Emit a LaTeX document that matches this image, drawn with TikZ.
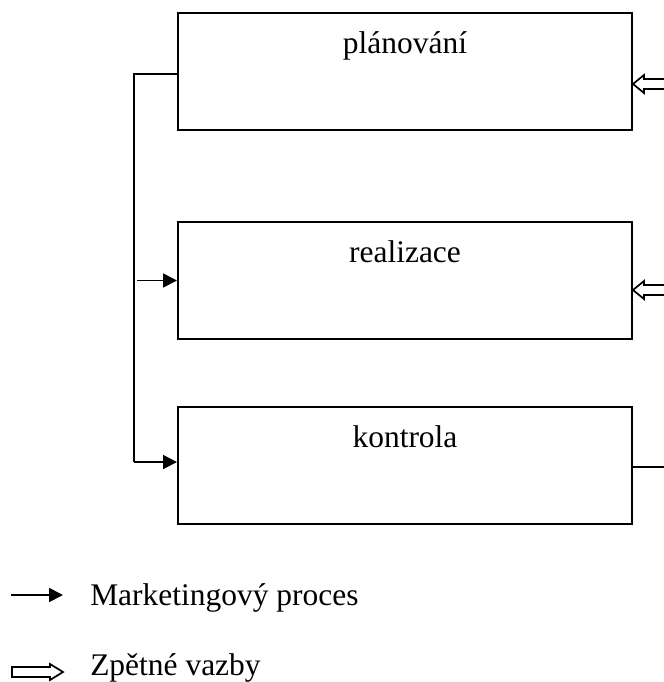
\documentclass[tikz,border=0pt]{standalone}
\usepackage{fontspec}
\setmainfont{Liberation Serif}
\usetikzlibrary{arrows.meta}
\begin{document}
\begin{tikzpicture}[x=0.75pt,y=-0.75pt,
  box/.style={draw, line width=1.5pt, rectangle, minimum width=340.5pt, inner sep=0pt,
    text height=30pt, text depth=57.75pt, font=\fontsize{23.6}{27}\selectfont},
  flow/.style={line width=1.3pt},
  arr/.style={line width=1.3pt, -{Triangle[length=10.5pt,width=10.5pt]}},
  fb/.style={line width=1.3pt, line join=miter},
  legtext/.style={anchor=base west, inner sep=0pt, font=\fontsize{23.6}{27}\selectfont}]
\useasboundingbox (0,0) rectangle (664,682);

\node[box] (plan) at (405,71.5) {plánování};
\node[box] (real) at (405,280.5) {realizace};
\node[box] (kont) at (405,465.5) {kontrola};

\coordinate (busx) at (134,0);
\coordinate (gapx) at (137,0);

% marketing process connectors
\draw[flow] ([yshift=-1.9pt]plan.west) -- ([yshift=-1.9pt]plan.west -| busx) -- ([yshift=2.6pt]kont.west -| busx);
\draw[arr] ([yshift=2.6pt]kont.west -| busx) -- ([yshift=2.6pt]kont.west);
\draw[arr] (real.west -| gapx) -- (real.west);

% feedback arrows
\draw[fb] (plan.east |- 0,84) ++(32,-5) -- ++(-21,0) -- ++(0,-4) -- ++(-11,9) -- ++(11,9) -- ++(0,-4) -- ++(21,0);
\draw[fb] (real.east |- 0,290) ++(32,-5) -- ++(-21,0) -- ++(0,-4) -- ++(-11,9) -- ++(11,9) -- ++(0,-4) -- ++(21,0);
\draw[flow] (kont.east |- 0,467) -- ++(32,0);

% legend
\node[legtext] (leg1) at (90,605) {Marketingový proces};
\node[legtext] (leg2) at (90,675) {Zpětné vazby};
\coordinate (l1s) at (11,595);
\coordinate (l1e) at (63,595);
\draw[arr] (l1s) -- (l1e);
\coordinate (l2s) at (12,672);
\draw[fb] (l2s) ++(0,-5) -- ++(38,0) -- ++(0,-3) -- ++(13,8) -- ++(-13,8) -- ++(0,-3) -- ++(-38,0) -- cycle;
\end{tikzpicture}
\end{document}
